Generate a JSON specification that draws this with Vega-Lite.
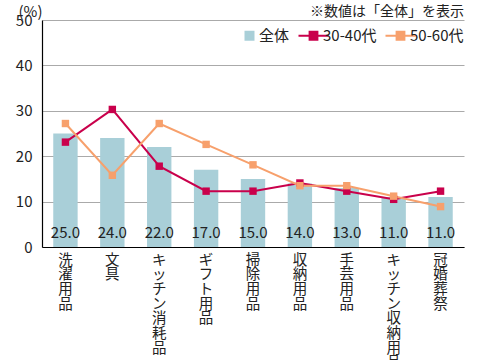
{
  "$schema": "https://vega.github.io/schema/vega-lite/v6.json",
  "autosize": {"type": "none"},
  "width": 422,
  "height": 227,
  "padding": {"left": 42, "top": 20, "right": 16, "bottom": 113},
  "background": "white",
  "config": {
    "font": "Noto Sans CJK JP",
    "view": {"stroke": null},
    "axis": {"labelFont": "Noto Sans CJK JP", "titleFont": "Noto Sans CJK JP"}
  },
  "title": {
    "text": "※数値は「全体」を表示",
    "anchor": "end",
    "orient": "top",
    "offset": 3,
    "dy": 18,
    "fontSize": 14,
    "fontWeight": "normal",
    "color": "#222"
  },
  "data": {
    "values": [
      {"cat": "洗濯用品", "series": "全体", "value": 25.0},
      {"cat": "文具", "series": "全体", "value": 24.0},
      {"cat": "キッチン消耗品", "series": "全体", "value": 22.0},
      {"cat": "ギフト用品", "series": "全体", "value": 17.0},
      {"cat": "掃除用品", "series": "全体", "value": 15.0},
      {"cat": "収納用品", "series": "全体", "value": 14.0},
      {"cat": "手芸用品", "series": "全体", "value": 13.0},
      {"cat": "キッチン収納用品", "series": "全体", "value": 11.0},
      {"cat": "冠婚葬祭", "series": "全体", "value": 11.0},
      {"cat": "洗濯用品", "series": "30-40代", "value": 23.1},
      {"cat": "文具", "series": "30-40代", "value": 30.3},
      {"cat": "キッチン消耗品", "series": "30-40代", "value": 17.8},
      {"cat": "ギフト用品", "series": "30-40代", "value": 12.3},
      {"cat": "掃除用品", "series": "30-40代", "value": 12.3},
      {"cat": "収納用品", "series": "30-40代", "value": 14.1},
      {"cat": "手芸用品", "series": "30-40代", "value": 12.3},
      {"cat": "キッチン収納用品", "series": "30-40代", "value": 10.5},
      {"cat": "冠婚葬祭", "series": "30-40代", "value": 12.3},
      {"cat": "洗濯用品", "series": "50-60代", "value": 27.2},
      {"cat": "文具", "series": "50-60代", "value": 15.8},
      {"cat": "キッチン消耗品", "series": "50-60代", "value": 27.2},
      {"cat": "ギフト用品", "series": "50-60代", "value": 22.6},
      {"cat": "掃除用品", "series": "50-60代", "value": 18.1},
      {"cat": "収納用品", "series": "50-60代", "value": 13.5},
      {"cat": "手芸用品", "series": "50-60代", "value": 13.5},
      {"cat": "キッチン収納用品", "series": "50-60代", "value": 11.2},
      {"cat": "冠婚葬祭", "series": "50-60代", "value": 8.9}
    ]
  },
  "encoding": {
    "x": {
      "field": "cat",
      "type": "nominal",
      "sort": null,
      "scale": {"paddingInner": 0.48, "paddingOuter": 0.24},
      "axis": {
        "title": null,
        "labelAngle": 0,
        "labelExpr": "split(datum.label, '')",
        "labelFontSize": 14.5,
        "labelLineHeight": 14.7,
        "labelColor": "#222",
        "labelBaseline": "top",
        "labelPadding": 6,
        "ticks": false,
        "domainColor": "#000",
        "domainWidth": 1.2,
        "grid": false
      }
    }
  },
  "layer": [
    {
      "transform": [{"filter": "datum.series === '全体'"}],
      "mark": {"type": "bar"},
      "encoding": {
        "y": {
          "field": "value",
          "type": "quantitative",
          "scale": {"domain": [0, 50]},
          "axis": {
            "title": "(%)",
            "titleAngle": 0,
            "titleX": -12,
            "titleY": -9,
            "titleAlign": "center",
            "titleBaseline": "middle",
            "titleFontSize": 15,
            "titleFontWeight": "normal",
            "titleColor": "#222",
            "values": [0, 10, 20, 30, 40, 50],
            "labelFontSize": 15,
            "labelColor": "#222",
            "labelPadding": 10,
            "ticks": false,
            "domainColor": "#000",
            "domainWidth": 1.2,
            "gridColor": "#aaaaaa",
            "gridWidth": 1
          }
        },
        "color": {
          "field": "series",
          "type": "nominal",
          "scale": {"domain": ["全体", "30-40代", "50-60代"], "range": ["#a9cfd8", "#c9004b", "#f7a06c"]},
          "legend": {
            "title": null,
            "orient": "none",
            "direction": "horizontal",
            "legendX": 200,
            "legendY": 8,
            "labelFontSize": 15,
            "labelColor": "#222",
            "labelOffset": 2,
            "columnPadding": 4,
            "symbolSize": 900,
            "encode": {
              "symbols": {
                "update": {
                  "shape": {"signal": "datum.value === '全体' ? 'square' : 'M-1,0H1M-0.26,-0.26H0.26V0.26H-0.26Z'"},
                  "size": {"signal": "datum.value === '全体' ? 100 : 900"},
                  "fill": {"scale": "color", "field": "value"},
                  "stroke": {"scale": "color", "field": "value"},
                  "strokeWidth": {"signal": "datum.value === '全体' ? 0 : 2"},
                  "opacity": {"value": 1},
                  "fillOpacity": {"value": 1}
                }
              }
            }
          }
        }
      }
    },
    {
      "transform": [{"filter": "datum.series === '全体'"}],
      "mark": {"type": "text", "fontSize": 15, "color": "#222", "baseline": "middle", "dy": -14},
      "encoding": {
        "y": {"datum": 0, "type": "quantitative"},
        "text": {"field": "value", "type": "quantitative", "format": ".1f"}
      }
    },
    {
      "transform": [{"filter": "datum.series !== '全体'"}],
      "mark": {"type": "line", "strokeWidth": 2, "point": {"shape": "square", "filled": true, "size": 55, "opacity": 1}},
      "encoding": {
        "y": {"field": "value", "type": "quantitative"},
        "color": {"field": "series", "type": "nominal"}
      }
    }
  ]
}
